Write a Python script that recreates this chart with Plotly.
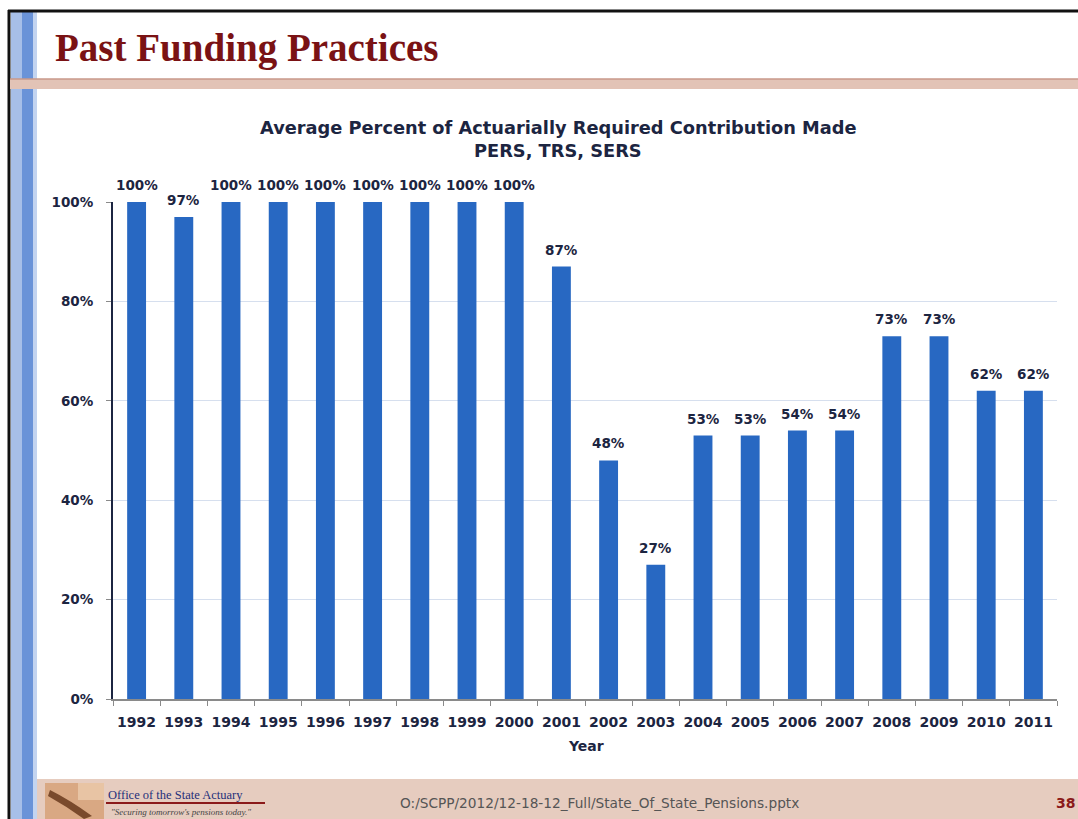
import plotly.graph_objects as go

years = ["1992", "1993", "1994", "1995", "1996", "1997", "1998", "1999", "2000", "2001",
         "2002", "2003", "2004", "2005", "2006", "2007", "2008", "2009", "2010", "2011"]
pct_made = [100, 97, 100, 100, 100, 100, 100, 100, 100, 87,
            48, 27, 53, 53, 54, 54, 73, 73, 62, 62]
y_ticks = [0, 20, 40, 60, 80, 100]

W, H = 1078, 819
NAVY = "#1c2541"
FONT = "DejaVu Sans"

def px(x):
    return x / W

def py(y):
    return 1 - y / H

fig = go.Figure()
fig.add_trace(go.Bar(
    x=years, y=pct_made,
    marker=dict(color="#2868c2", line=dict(width=0)),
    width=0.40, hoverinfo="x+y",
))

shapes = []
# black frame
shapes.append(dict(type="line", xref="paper", yref="paper", x0=px(8), x1=1, y0=py(11), y1=py(11),
                   line=dict(color="#111111", width=3)))
shapes.append(dict(type="line", xref="paper", yref="paper", x0=px(9), x1=px(9), y0=py(10), y1=0,
                   line=dict(color="#111111", width=3)))
# left blue stripes
shapes.append(dict(type="rect", xref="paper", yref="paper", x0=px(11), x1=px(22), y0=0, y1=py(12),
                   fillcolor="#a7bfe8", line=dict(width=0), layer="below"))
shapes.append(dict(type="rect", xref="paper", yref="paper", x0=px(22), x1=px(33), y0=0, y1=py(12),
                   fillcolor="#6a93d8", line=dict(width=0), layer="below"))
shapes.append(dict(type="rect", xref="paper", yref="paper", x0=px(33), x1=px(37), y0=0, y1=py(12),
                   fillcolor="#c3d4f0", line=dict(width=0), layer="below"))
# header rule
shapes.append(dict(type="rect", xref="paper", yref="paper", x0=px(10), x1=1, y0=py(89), y1=py(79),
                   fillcolor="#e2c3b6", line=dict(width=0)))
shapes.append(dict(type="line", xref="paper", yref="paper", x0=px(10), x1=1, y0=py(79), y1=py(79),
                   line=dict(color="#c9998a", width=1.5)))
# footer band
shapes.append(dict(type="rect", xref="paper", yref="paper", x0=px(37), x1=1, y0=0, y1=py(779),
                   fillcolor="#e6ccbf", line=dict(width=0), layer="below"))
# logo picture placeholder
shapes.append(dict(type="rect", xref="paper", yref="paper", x0=px(45), x1=px(104), y0=0, y1=py(783),
                   fillcolor="#d9a883", line=dict(width=0)))
shapes.append(dict(type="path", xref="paper", yref="paper",
                   path=f"M {px(50)},{py(790)} Q {px(70)},{py(800)} {px(92)},{py(816)} L {px(84)},{py(819)} Q {px(66)},{py(806)} {px(48)},{py(796)} Z",
                   fillcolor="#7a4a2c", line=dict(width=0)))
shapes.append(dict(type="rect", xref="paper", yref="paper", x0=px(78), x1=px(104), y0=py(800), y1=py(783),
                   fillcolor="#e8c4a4", line=dict(width=0)))
# logo underline
shapes.append(dict(type="line", xref="paper", yref="paper", x0=px(106), x1=px(265), y0=py(803), y1=py(803),
                   line=dict(color="#8b1a1a", width=2)))

annotations = [
    dict(text="<b>Past Funding Practices</b>", x=px(53), y=py(48), xref="paper", yref="paper",
         xanchor="left", yanchor="middle", showarrow=False,
         font=dict(family="Liberation Serif", size=39, color="#7a1214")),
    dict(text="<b>Average Percent of Actuarially Required Contribution Made</b>", x=px(558), y=py(127),
         xref="paper", yref="paper", xanchor="center", yanchor="middle", showarrow=False,
         font=dict(family=FONT, size=17.8, color=NAVY)),
    dict(text="<b>PERS, TRS, SERS</b>", x=px(558), y=py(150),
         xref="paper", yref="paper", xanchor="center", yanchor="middle", showarrow=False,
         font=dict(family=FONT, size=17.8, color=NAVY)),
    dict(text="<b>Year</b>", x=px(586), y=py(746), xref="paper", yref="paper",
         xanchor="center", yanchor="middle", showarrow=False,
         font=dict(family=FONT, size=14, color=NAVY)),
    dict(text="Office of the State Actuary", x=px(106), y=py(795), xref="paper", yref="paper",
         xanchor="left", yanchor="middle", showarrow=False,
         font=dict(family="Liberation Serif", size=12.5, color="#1f2f7a")),
    dict(text="<i>\"Securing tomorrow's pensions today.\"</i>", x=px(109), y=py(812), xref="paper", yref="paper",
         xanchor="left", yanchor="middle", showarrow=False,
         font=dict(family="Liberation Serif", size=9, color="#444444")),
    dict(text="O:/SCPP/2012/12-18-12_Full/State_Of_State_Pensions.pptx", x=px(599), y=py(803),
         xref="paper", yref="paper", xanchor="center", yanchor="middle", showarrow=False,
         font=dict(family=FONT, size=13.7, color="#555555")),
    dict(text="<b>38</b>", x=px(1077), y=py(803), xref="paper", yref="paper",
         xanchor="right", yanchor="middle", showarrow=False,
         font=dict(family=FONT, size=14, color="#8b1a1a")),
]
# value labels above each bar, positioned by the data axes (category index on x)
for i, v in enumerate(pct_made):
    annotations.append(dict(text=f"<b>{v}%</b>", x=i, y=v, xref="x", yref="y",
                            xanchor="center", yanchor="bottom", yshift=7, showarrow=False,
                            font=dict(family=FONT, size=13.5, color=NAVY)))

fig.update_layout(
    template="none",
    width=W, height=H,
    margin=dict(l=0, r=0, t=0, b=0, pad=0),
    paper_bgcolor="white", plot_bgcolor="white",
    showlegend=False,
    shapes=shapes, annotations=annotations,
    xaxis=dict(domain=[px(113), px(1057)], type="category", automargin=False,
               range=[-0.5, len(years) - 0.5], autorange=False,
               tickvals=years, ticktext=[f"<b>{y}</b>" for y in years], tickangle=0,
               showline=True, linecolor="#8a8a8a", linewidth=1.5,
               ticks="outside", ticklen=5, tickcolor="#8a8a8a", tickson="boundaries",
               tickfont=dict(family=FONT, size=14, color=NAVY),
               ticklabelstandoff=9, showgrid=False, zeroline=False),
    yaxis=dict(domain=[py(699), py(202)], range=[0, 100], autorange=False, automargin=False,
               tickvals=y_ticks, ticktext=[f"<b>{v}%</b>" for v in y_ticks],
               showline=True, linecolor="#1c2541", linewidth=2,
               ticks="outside", ticklen=5, tickcolor="#8a8a8a",
               tickfont=dict(family=FONT, size=13.5, color=NAVY),
               ticklabelstandoff=10,
               showgrid=True, gridcolor="#d6dfee", gridwidth=1, zeroline=False),
)

fig.write_html("out.html", config={"displayModeBar": False},
               post_script="document.body.style.margin='0';document.body.style.overflow='hidden';")
